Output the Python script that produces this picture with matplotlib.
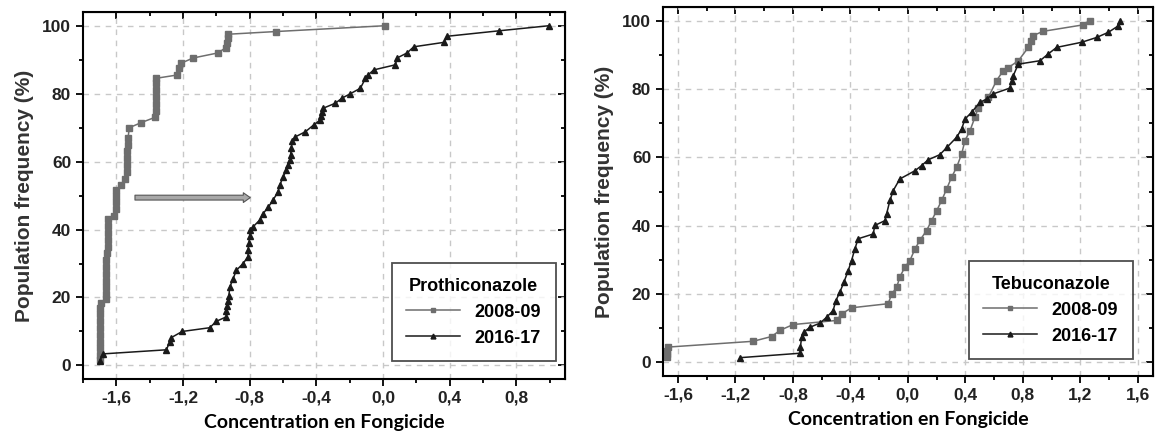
import matplotlib.pyplot as plt
from matplotlib.ticker import MultipleLocator, FuncFormatter

# Prothiconazole, 2008-09 (gray squares)
proth_0809_x = [-1.70, -1.70, -1.70, -1.70, -1.70, -1.70, -1.70, -1.70, -1.70, -1.695,
                -1.665, -1.665, -1.665, -1.665, -1.662, -1.662, -1.66, -1.655, -1.652, -1.652,
                -1.652, -1.652, -1.65, -1.612, -1.60, -1.60, -1.60, -1.60, -1.57, -1.55,
                -1.535, -1.535, -1.535, -1.535, -1.532, -1.53, -1.522, -1.45, -1.37, -1.365,
                -1.365, -1.365, -1.365, -1.365, -1.365, -1.235, -1.225, -1.21, -1.14, -0.99,
                -0.945, -0.935, -0.93, -0.93, -0.64, 0.01]
proth_0809_y = [1.5, 3, 5, 7, 9, 11, 13, 15, 17, 18.5,
                19.5, 21, 23, 25, 27, 29, 31, 33, 35, 37,
                39, 41, 43, 44, 46, 48, 50, 51.5, 53, 55,
                57, 59, 61, 63, 65, 67, 70, 71.5, 73, 75,
                77, 79, 81, 83, 84.5, 85.5, 87.5, 89, 90.5, 92,
                93.5, 95, 96.5, 97.5, 98.3, 100]

# Prothiconazole, 2016-17 (black triangles)
proth_1617_x = [-1.70, -1.68, -1.30, -1.28, -1.27, -1.205, -1.04, -1.00, -0.94, -0.94,
                -0.935, -0.93, -0.925, -0.92, -0.90, -0.88, -0.84, -0.81, -0.81, -0.805,
                -0.80, -0.80, -0.78, -0.74, -0.72, -0.69, -0.66, -0.63, -0.62, -0.60,
                -0.58, -0.57, -0.56, -0.555, -0.55, -0.545, -0.526, -0.466, -0.416, -0.376,
                -0.37, -0.365, -0.36, -0.286, -0.246, -0.196, -0.136, -0.106, -0.09, -0.056,
                0.074, 0.084, 0.144, 0.184, 0.364, 0.384, 0.694, 0.994]
proth_1617_y = [1.3, 3.4, 4.6, 6.9, 8.2, 10, 11.1, 13, 14.3, 16,
                17.5, 19, 20.5, 23, 25.5, 28, 30, 32, 34, 36,
                38, 39.8, 40.8, 42.8, 44.7, 46.5, 48.7, 51.1, 53, 55.5,
                57.5, 59, 60.5, 62, 64, 66, 67.3, 68.8, 70.8, 72.3,
                73.5, 74.5, 75.7, 77.2, 78.7, 80, 81.6, 84.5, 85.5, 87,
                88.5, 90.5, 92, 93.8, 95.1, 96.9, 98.5, 100]

# Tebuconazole, 2008-09 (gray squares)
tebu_0809_x = [-1.674, -1.674, -1.674, -1.67, -1.076, -0.948, -0.89, -0.798, -0.496, -0.461,
               -0.392, -0.137, -0.113, -0.078, -0.056, -0.021, 0.014, 0.049, 0.083, 0.13,
               0.165, 0.20, 0.235, 0.27, 0.304, 0.339, 0.374, 0.397, 0.432, 0.466,
               0.49, 0.56, 0.617, 0.664, 0.699, 0.769, 0.838, 0.855, 0.868, 0.941,
               1.22, 1.266]
tebu_0809_y = [1.5, 2.5, 3.5, 4.5, 6.2, 7.6, 9.4, 11.1, 12.3, 14.2,
               16, 17.2, 20, 22, 25, 27.9, 29.8, 33.2, 35.7, 38.6,
               41.5, 44.4, 47.4, 50.8, 54.2, 57.1, 61, 64.9, 67.8, 71.7,
               74.6, 77.6, 82.5, 85.4, 86.3, 88.3, 92.2, 94, 95.6, 96.9,
               98.8, 100]

# Tebuconazole, 2016-17 (black triangles)
tebu_1617_x = [-1.169, -0.751, -0.748, -0.739, -0.72, -0.682, -0.612, -0.566, -0.52, -0.501,
               -0.473, -0.445, -0.415, -0.392, -0.369, -0.346, -0.241, -0.23, -0.16, -0.148,
               -0.125, -0.102, -0.056, 0.049, 0.095, 0.141, 0.222, 0.273, 0.339, 0.374,
               0.397, 0.443, 0.501, 0.548, 0.594, 0.71, 0.722, 0.733, 0.768, 0.919,
               0.977, 1.035, 1.209, 1.313, 1.394, 1.464, 1.476]
tebu_1617_y = [1.4, 2.7, 4.5, 7.4, 9, 10.3, 11.5, 13.2, 15.2, 18.1,
               20.6, 23.5, 26.9, 29.8, 33.2, 36.2, 37.6, 40.1, 41.5, 43.5,
               47.4, 50.3, 53.7, 56.1, 57.6, 59.3, 60.8, 63, 65.9, 68.3,
               71.2, 73.2, 76.1, 77.1, 78.6, 80.3, 82.5, 83.9, 87.3, 88.3,
               90.3, 92.2, 93.7, 95.1, 96.6, 98.5, 100]

plt.rcParams['font.family'] = ['Liberation Sans', 'DejaVu Sans']
plt.rcParams['font.weight'] = 'bold'

fig = plt.figure(figsize=(11.58, 4.42), dpi=100)
ax1 = fig.add_axes([0.0717, 0.1425, 0.416, 0.830])
ax2 = fig.add_axes([0.5725, 0.149, 0.423, 0.835])

comma = FuncFormatter(lambda v, p: ('%.1f' % v).replace('.', ','))


def style(ax, xlim, legend_title, anchor):
    ax.set_xlim(*xlim)
    ax.set_ylim(-4, 104)
    ax.xaxis.set_major_locator(MultipleLocator(0.4))
    ax.xaxis.set_minor_locator(MultipleLocator(0.2))
    ax.yaxis.set_major_locator(MultipleLocator(20))
    ax.yaxis.set_minor_locator(MultipleLocator(10))
    ax.xaxis.set_major_formatter(comma)
    ax.grid(True, which='major', color='#c8c8c8', linestyle=(0, (4, 4)), linewidth=1)
    ax.set_axisbelow(True)
    for s in ax.spines.values():
        s.set_linewidth(1.5)
    ax.tick_params(which='both', direction='out', width=1.3, labelsize=12.5,
                   labelcolor='#222222')
    ax.tick_params(which='major', length=5)
    ax.tick_params(which='minor', length=3)
    # inward ticks on top and right
    sx = ax.secondary_xaxis('top')
    sx.xaxis.set_major_locator(MultipleLocator(0.4))
    sx.xaxis.set_minor_locator(MultipleLocator(0.2))
    sx.tick_params(which='both', direction='in', width=1.3, labelbottom=False, labeltop=False)
    sx.tick_params(which='major', length=5)
    sx.tick_params(which='minor', length=3)
    sy = ax.secondary_yaxis('right')
    sy.yaxis.set_major_locator(MultipleLocator(20))
    sy.yaxis.set_minor_locator(MultipleLocator(10))
    sy.tick_params(which='both', direction='in', width=1.3, labelleft=False, labelright=False)
    sy.tick_params(which='major', length=5)
    sy.tick_params(which='minor', length=3)
    ax.set_ylabel('Population frequency (%)', fontsize=15, fontweight='bold',
                  color='#333333', labelpad=6)
    ax.set_xlabel('Concentration en Fongicide', fontsize=14, fontweight='bold',
                  family=['Lato', 'DejaVu Sans'], labelpad=6)
    leg = ax.legend(loc='lower right', title=legend_title, fontsize=13,
                    title_fontsize=13, frameon=True, fancybox=False,
                    edgecolor='#222222', handlelength=3.0, borderpad=0.8,
                    borderaxespad=0, markerscale=0.7, bbox_to_anchor=anchor)
    leg.get_frame().set_linewidth(1.3)
    leg.get_title().set_fontweight('bold')


ax1.plot(proth_0809_x, proth_0809_y, color='#6e6e6e', marker='s', markersize=4,
         linewidth=1.1, label='2008-09')
ax1.plot(proth_1617_x, proth_1617_y, color='#1a1a1a', marker='^', markersize=5,
         linewidth=1.1, label='2016-17')
ax1.annotate('', xy=(-0.78, 49.4), xytext=(-1.505, 49.4),
             arrowprops=dict(arrowstyle='simple, head_width=0.7, head_length=0.5, tail_width=0.35',
                             facecolor='#a8a8a8', edgecolor='#555555', linewidth=0.8))
style(ax1, (-1.80, 1.09), 'Prothiconazole', (0.981, 0.049))

ax2.plot(tebu_0809_x, tebu_0809_y, color='#6e6e6e', marker='s', markersize=4,
         linewidth=1.1, label='2008-09')
ax2.plot(tebu_1617_x, tebu_1617_y, color='#1a1a1a', marker='^', markersize=5,
         linewidth=1.1, label='2016-17')
style(ax2, (-1.704, 1.704), 'Tebuconazole', (0.959, 0.046))

fig.savefig('out.png', dpi=100)
